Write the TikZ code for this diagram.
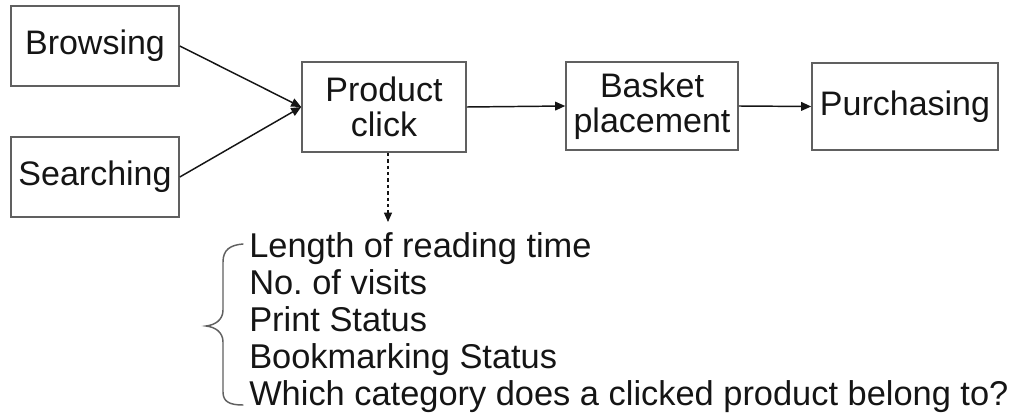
\documentclass[tikz,border=0pt]{standalone}
\usepackage{fontspec}
\setmainfont{Liberation Sans}
\frenchspacing
\usetikzlibrary{arrows.meta}
\definecolor{boxline}{HTML}{606060}
\definecolor{ink}{HTML}{151515}
\tikzset{
  stagebox/.style={draw=boxline, line width=1.2pt, inner sep=0pt, align=center,
    font=\fontsize{25.5}{26.25}\selectfont, text=ink},
  flow/.style={draw=ink, line width=1.1pt, -{Triangle[length=7.5pt,width=6.5pt]}},
  dflow/.style={flow, dash pattern=on 2.6pt off 2.2pt, line width=0.9pt,
    -{Triangle[length=7pt,width=6pt]}},
  bracepath/.style={draw=boxline, line width=1.1pt, line cap=round},
}
\begin{document}
\begin{tikzpicture}[x=0.75pt, y=-0.75pt]
  \useasboundingbox (0,0) rectangle (1016,417);

  % process stages
  \node[stagebox, minimum width=126pt, minimum height=60pt] (browse) at (95,46) {Browsing};
  \node[stagebox, minimum width=126pt, minimum height=60pt] (search) at (95,177) {Searching};
  \node[stagebox, minimum width=123pt, minimum height=67.5pt] (click) at (384,107) {Product\\click};
  \node[stagebox, minimum width=129pt, minimum height=66pt] (basket) at (652,106) {Basket\\placement};
  \node[stagebox, minimum width=139.5pt, minimum height=65.25pt] (buy) at (905,106.5) {Purchasing};

  % flow between stages
  \draw[flow] (browse.east) -- (click.west);
  \draw[flow] (search.east) -- (click.west);
  \draw[flow] (click.east) -- (basket.west);
  \draw[flow] (basket.east) -- (buy.west);

  % measured quantities for a product click
  \coordinate (measures) at (388,222);
  \draw[dflow] ([xshift=3pt]click.south) -- (measures);

  \node[anchor=north west, inner sep=0pt, align=left, text=ink,
        font=\fontsize{25.8}{27.75}\selectfont] (list) at (249,232)
    {Length of reading time\\No. of visits\\Print Status\\Bookmarking Status\\Which category does a clicked product belong to?};

  % brace grouping the list
  \draw[bracepath] (243,244) .. controls (230,245) and (223,250) .. (223,262)
    -- (223,310) .. controls (223,320) and (215,325) .. (206,326)
    .. controls (215,327) and (223,332) .. (223,342)
    -- (223,392) .. controls (223,402) and (230,405) .. (243,405);
\end{tikzpicture}
\end{document}
